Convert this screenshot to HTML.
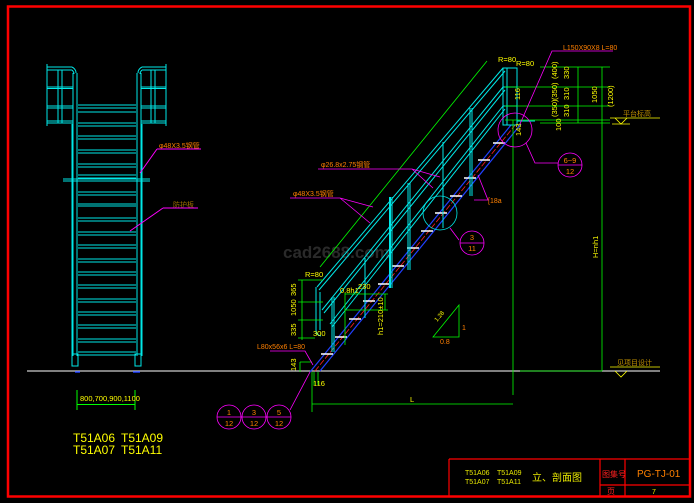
<!DOCTYPE html>
<html><head><meta charset="utf-8"><style>
html,body{margin:0;padding:0;background:#000;}
svg{display:block;}
text{font-family:"Liberation Sans","Noto Sans CJK SC",sans-serif;}
</style></head><body>
<svg width="694" height="503" viewBox="0 0 694 503" xmlns="http://www.w3.org/2000/svg">
<rect width="694" height="503" fill="#000"/>
<!-- frame -->
<rect x="8" y="6.5" width="682" height="490" fill="none" stroke="#ff0000" stroke-width="2.5"/>
<!-- title block -->
<g stroke="#ff0000" stroke-width="1.2" fill="none">
<line x1="449" y1="459" x2="690" y2="459"/>
<line x1="449" y1="459" x2="449" y2="497"/>
<line x1="600" y1="459" x2="600" y2="497"/>
<line x1="625" y1="459" x2="625" y2="497"/>
<line x1="600" y1="485" x2="690" y2="485"/>
</g>
<text x="465" y="475" font-size="7" fill="#e8e800">T51A06</text>
<text x="497" y="475" font-size="7" fill="#e8e800">T51A09</text>
<text x="465" y="484" font-size="7" fill="#e8e800">T51A07</text>
<text x="497" y="484" font-size="7" fill="#e8e800">T51A11</text>
<text x="532" y="481" font-size="10" fill="#e8e800">立、剖面图</text>
<text x="602" y="477" font-size="8" fill="#ff2020">图集号</text>
<text x="637" y="477" font-size="10" fill="#ff8000" font-family="Liberation Mono,monospace">PG-TJ-01</text>
<text x="607" y="494" font-size="8" fill="#ff2020">页</text>
<text x="652" y="494" font-size="7" fill="#e8e800">7</text>

<!-- ground line -->
<line x1="27" y1="371" x2="660" y2="371" stroke="#fff" stroke-width="1"/>

<!-- LEFT ELEVATION -->
<g stroke="#00e8e8" stroke-width="1" fill="none">
<!-- side boxes -->
<path d="M47 64V126 M47 67H72 M47 70H72 M47 87H73 M47 88.5H73 M47 106H73 M47 108H73 M47 121H73 M47 123H73 M58 70V123 M62 70V123"/>
<path d="M72 67Q76 69 76 73 M72 70Q74 72 74 74"/>
<path d="M166 64V126 M142 67H166 M142 70H166 M141 87H166 M141 88.5H166 M141 106H166 M141 108H166 M141 121H166 M141 123H166 M151 70V123 M155 70V123"/>
<path d="M142 67Q138 69 138 73 M142 70Q140 72 140 74"/>
<!-- main rails -->
<path d="M73 73V356 M77 73V356 M137 73V356 M141 73V356"/>
<path d="M72 124V356 M142 124V356"/>
<path d="M78 123H136 M78 126H136"/>
<!-- post bases -->
<rect x="72" y="354" width="6" height="12"/>
<rect x="135" y="354" width="6" height="12"/>
<!-- cross beam -->
<path d="M63 179H150 M63 181H150"/>
<!-- rungs -->
<path d="M78 136H136 M78 139H136 M78 150H136 M78 153H136 M78 164H136 M78 167H136 M78 175H136 M78 178H136 M78 192H136 M78 195H136 M78 204H136 M78 206H136 M78 218H136 M78 221H136 M78 232H136 M78 235H136 M78 245H136 M78 248H136 M78 259H136 M78 262H136 M78 272H136 M78 275H136 M78 285H136 M78 288H136 M78 299H136 M78 302H136 M78 312H136 M78 315H136 M78 325H136 M78 328H136 M78 339H136 M78 342H136 M78 352H136 M78 355H136 M78 105H136 M78 108H136 M78 112H136"/>
</g>
<line x1="75" y1="372" x2="80" y2="372" stroke="#2040ff" stroke-width="1.5"/>
<line x1="133" y1="372" x2="140" y2="372" stroke="#2040ff" stroke-width="1.5"/>
<!-- left labels -->
<text x="159" y="148" font-size="7" fill="#ff8000">φ48X3.5钢管</text>
<line x1="157" y1="149" x2="201" y2="149" stroke="#ff00ff"/>
<line x1="157" y1="149" x2="140" y2="173" stroke="#ff00ff"/>
<text x="173" y="207" font-size="7" fill="#a07000">防护板</text>
<line x1="163" y1="208" x2="198" y2="208" stroke="#ff00ff"/>
<line x1="163" y1="208" x2="130" y2="231" stroke="#ff00ff"/>
<!-- bottom dim -->
<g stroke="#00ff00" stroke-width="1">
<line x1="77" y1="390" x2="77" y2="410"/>
<line x1="135" y1="390" x2="135" y2="410"/>
<line x1="77" y1="404.5" x2="135" y2="404.5"/>
</g>
<text x="80" y="401" font-size="7.5" fill="#ffff00">800,700,900,1100</text>
<text x="73" y="442" font-size="12" fill="#ffff00" font-family="Liberation Serif,serif">T51A06</text>
<text x="121" y="442" font-size="12" fill="#ffff00" font-family="Liberation Serif,serif">T51A09</text>
<text x="73" y="454" font-size="12" fill="#ffff00" font-family="Liberation Serif,serif">T51A07</text>
<text x="121" y="454" font-size="12" fill="#ffff00" font-family="Liberation Serif,serif">T51A11</text>

<!-- SECTION -->
<text x="283" y="258" font-size="17" font-weight="bold" fill="#2a2a2a">cad2688.com</text>
<!-- stringer -->
<g fill="none">
<line x1="310" y1="372" x2="511" y2="125" stroke="#2040ff" stroke-width="1.2"/>
<line x1="320" y1="371" x2="521" y2="124" stroke="#2040ff" stroke-width="1.2"/>
<line x1="315" y1="371" x2="516" y2="124" stroke="#ff2020" stroke-width="0.8" stroke-dasharray="6 2"/>
</g>
<g stroke="#fff" stroke-width="1.5">
<path d="M321 354h12 M335 337h12 M349 319h12 M363 301h12 M378 284h12 M392 266h12 M407 248h12 M421 231h12 M435 213h12 M450 196h12 M464 178h12 M478 160h12 M493 143h12"/>
</g>
<!-- handrails -->
<g stroke="#00e8e8" stroke-width="1" fill="none">
<line x1="317" y1="287" x2="503" y2="68"/>
<line x1="319" y1="290" x2="505" y2="71"/>
<line x1="322" y1="310" x2="503" y2="87"/>
<line x1="324" y1="313" x2="505" y2="90"/>
<line x1="330" y1="324" x2="503" y2="106"/>
<line x1="332" y1="327" x2="505" y2="109"/>
<!-- posts -->
<path d="M332 297V352 M334 297V352 M365 258V318 M390 197V288 M392 197V288 M408 183V270 M410 183V270 M443 142V228 M470 108V196 M472 108V196"/>
<path d="M316 287V330Q316 335 321 336 M320 292V330"/>
<rect x="503" y="68" width="14" height="57"/>
<path d="M507 68V125 M503 87H517 M503 106H517"/>
<line x1="517" y1="121" x2="535" y2="121"/>
</g>
<line x1="390" y1="197" x2="390" y2="288" stroke="#00e8e8" stroke-width="2"/>
<!-- green dims -->
<g stroke="#00ff00" stroke-width="0.8" fill="none">
<line x1="320" y1="267" x2="487" y2="61"/>
<line x1="513" y1="120" x2="513" y2="395"/>
<line x1="312" y1="372" x2="312" y2="412"/>
<line x1="312" y1="404" x2="513" y2="404"/>
<path d="M540 67H610 M505 87H610 M505 106H610 M505 120H610 M540 123H610 M578 67V123 M602 67V371 M520 371H602"/>
<path d="M298 280H323 M298 302H323 M298 320H323 M302 280V340 M298 338H315"/>
<path d="M345 293V345 M345 294H388 M345 310H388 M385 294V310"/>
<path d="M300 372V362 M300 362H312 M314 372V385 M318 372V385"/>
</g>
<!-- yellow dim texts -->
<g fill="#ffff00" font-size="7.5">
<text x="557" y="79" transform="rotate(-90 557 79)">(400)</text>
<text x="569" y="79" transform="rotate(-90 569 79)">330</text>
<text x="557" y="100" transform="rotate(-90 557 100)">(350)</text>
<text x="569" y="100" transform="rotate(-90 569 100)">310</text>
<text x="557" y="117" transform="rotate(-90 557 117)">(350)</text>
<text x="569" y="117" transform="rotate(-90 569 117)">310</text>
<text x="561" y="131" transform="rotate(-90 561 131)">100</text>
<text x="597" y="103" transform="rotate(-90 597 103)">1050</text>
<text x="613" y="107" transform="rotate(-90 613 107)">(1200)</text>
<text x="598" y="258" transform="rotate(-90 598 258)">H=nh1</text>
<text x="520" y="100" transform="rotate(-90 520 100)">116</text>
<text x="521" y="136" transform="rotate(-90 521 136)">143</text>
<text x="383" y="335" transform="rotate(-90 383 335)">h1=210±10</text>
<text x="296" y="316" transform="rotate(-90 296 316)">1050</text>
<text x="296" y="296" transform="rotate(-90 296 296)">365</text>
<text x="296" y="336" transform="rotate(-90 296 336)">335</text>
<text x="296" y="371" transform="rotate(-90 296 371)">143</text>
<text x="340" y="293">0.8h1</text>
<text x="358" y="289">230</text>
<text x="313" y="336">300</text>
<text x="313" y="386">116</text>
<text x="410" y="402">L</text>
<text x="498" y="62">R=80</text>
<text x="516" y="66">R=80</text>
<text x="305" y="277">R=80</text>
</g>
<!-- labels magenta leaders -->
<g stroke="#ff00ff" stroke-width="0.8" fill="none">
<path d="M613 51H552L520 124"/>
<path d="M318 169H412L440 177 M412 169L433 188"/>
<path d="M290 198H340L373 207 M340 198L370 223"/>
<path d="M474 200H488L478 175"/>
<circle cx="515" cy="130" r="17"/>
<path d="M526 143L535 163H558"/>
<circle cx="570" cy="165" r="12"/><path d="M558 165H582"/>
<circle cx="472" cy="243" r="12"/><path d="M460 243H484 M459 240L450 228"/>
<circle cx="229" cy="417" r="12"/><circle cx="254" cy="417" r="12"/><circle cx="279" cy="417" r="12"/>
<path d="M217 417H291 M290 410L310 372"/>
<path d="M270 351H305L313 365"/>
</g>
<circle cx="440" cy="213" r="17" fill="none" stroke="#00e8e8" stroke-width="0.8"/>
<g fill="#ff8000" font-size="7.5" text-anchor="middle">
<text x="570" y="163">6~9</text><text x="570" y="174">12</text>
<text x="472" y="240">3</text><text x="472" y="251">11</text>
<text x="229" y="415">1</text><text x="229" y="426">12</text>
<text x="254" y="415">3</text><text x="254" y="426">12</text>
<text x="279" y="415">5</text><text x="279" y="426">12</text>
</g>
<g fill="#ff8000" font-size="7">
<text x="563" y="50">L150X90X8 L=80</text>
<text x="321" y="167">φ26.8x2.75钢管</text>
<text x="293" y="196">φ48X3.5钢管</text>
<text x="488" y="203">[18a</text>
<text x="257" y="349">L80x56x6 L=80</text>
<text x="462" y="330">1</text>
<text x="440" y="344">0.8</text>
</g>
<!-- slope triangle -->
<path d="M433 337L459 305V337Z" fill="none" stroke="#00ff00" stroke-width="0.8"/>
<text x="437" y="322" font-size="6" fill="#ffff00" transform="rotate(-50 437 322)">1.28</text>
<!-- elevation marks -->
<g stroke="#ffff00" stroke-width="0.8" fill="none">
<path d="M610 118H660 M615 118L621 124L627 118 M612 124H630"/>
<path d="M610 367H660 M615 371L621 377L627 371"/>
</g>
<text x="623" y="116" font-size="7" fill="#c09000">平台标高</text>
<text x="617" y="365" font-size="7" fill="#c09000">见项目设计</text>
</svg>
</body></html>
